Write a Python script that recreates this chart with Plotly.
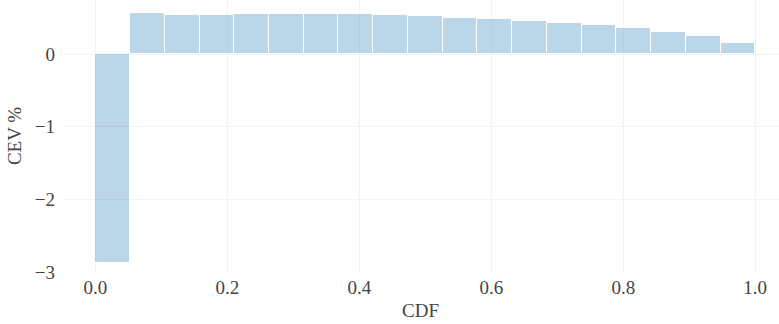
import plotly.graph_objects as go

# Histogram of CEV (%) across 19 equal CDF bins on [0, 1]
n_bins = 19
cev_pct = [-2.88, 0.562, 0.539, 0.539, 0.548, 0.548, 0.548, 0.548, 0.534,
           0.525, 0.497, 0.483, 0.460, 0.433, 0.400, 0.359, 0.308, 0.249, 0.148]
bin_width = 1.0 / n_bins
bin_centers = [(i + 0.5) * bin_width for i in range(n_bins)]

x_ticks = [0.0, 0.2, 0.4, 0.6, 0.8, 1.0]
x_tick_text = ["0.0", "0.2", "0.4", "0.6", "0.8", "1.0"]
y_ticks = [0, -1, -2, -3]

font_family = "Liberation Serif"
text_color = "#444444"
grid_color = "rgba(232,228,214,0.45)"

fig = go.Figure(
    go.Bar(
        x=bin_centers,
        y=cev_pct,
        width=bin_width,
        marker=dict(color="rgba(31,119,180,0.3)", line=dict(color="white", width=1)),
        showlegend=False,
    )
)

fig.update_layout(
    width=779,
    height=324,
    margin=dict(l=62, r=0, t=0, b=52),
    paper_bgcolor="white",
    plot_bgcolor="white",
    font=dict(family=font_family, size=19, color=text_color),
    bargap=0,
)

fig.update_xaxes(
    range=[-0.0505, 1.036],
    tickvals=x_ticks,
    ticktext=x_tick_text,
    showgrid=True,
    gridcolor=grid_color,
    gridwidth=1,
    zeroline=False,
    showline=False,
    ticks="",
    ticklabelstandoff=2,
    title=dict(text="CDF", standoff=6, font=dict(size=19, color=text_color)),
)
fig.update_yaxes(
    range=[-3, 0.746],
    tickvals=y_ticks,
    showgrid=True,
    gridcolor=grid_color,
    gridwidth=1,
    zeroline=False,
    showline=False,
    ticks="",
    ticklabelstandoff=6,
    title=dict(text="CEV %", standoff=8, font=dict(size=19, color=text_color)),
)

fig.write_html("out.html")
